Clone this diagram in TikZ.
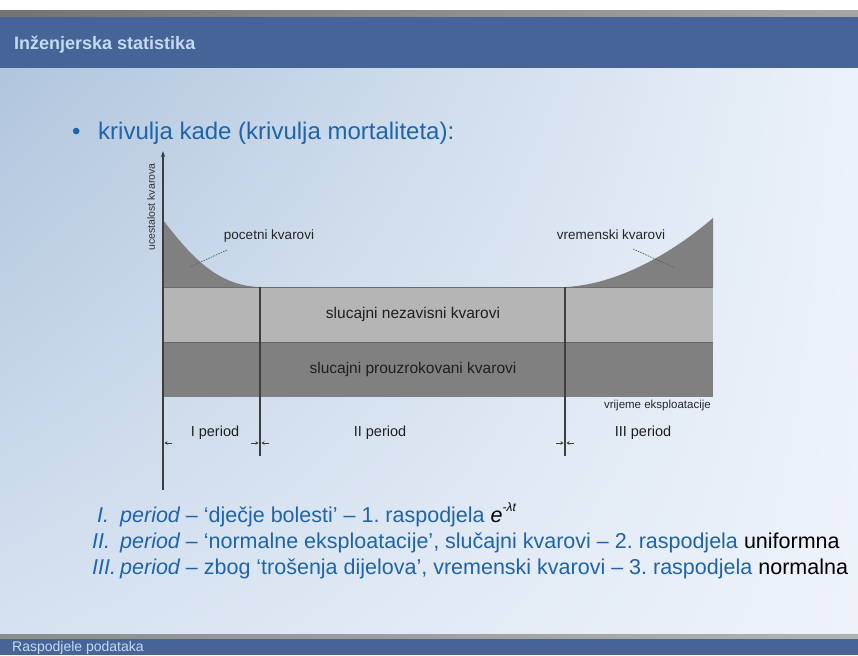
\documentclass[tikz,border=0pt]{standalone}
\usepackage{fontspec}
\setmainfont{Liberation Sans}
\usepackage{tikz}
\usetikzlibrary{arrows.meta,positioning,shadings}
\definecolor{slideBlue}{RGB}{70,100,152}
\definecolor{slideTitle}{RGB}{196,218,240}
\definecolor{bgUpperLeft}{RGB}{176,197,221}
\definecolor{bgUpperRight}{RGB}{236,242,250}
\definecolor{bgLowerLeft}{RGB}{214,226,241}
\definecolor{bgLowerRight}{RGB}{238,243,250}
\definecolor{textBlue}{RGB}{30,100,172}
\definecolor{bandLight}{RGB}{181,181,182}
\definecolor{bandDark}{RGB}{128,128,128}
\definecolor{lineGrey}{RGB}{62,62,62}
\newcommand{\earlycurve}{(163,287) -- (163,220) .. controls (188,252) and (215,286) .. (260,287) -- cycle}
\newcommand{\wearcurve}{(565,287) .. controls (615,285) and (670,255) .. (713,218) -- (713,287) -- cycle}
\tikzset{
	bandlabel/.style={font=\fontsize{15.5}{18}\selectfont, text=black!88, inner sep=0pt},
	periodlabel/.style={font=\fontsize{14.5}{17}\selectfont, text=black!88, inner sep=0pt},
	curvelabel/.style={font=\fontsize{13.5}{16}\selectfont, text=black!85, inner sep=0pt},
	periodline/.style={draw=lineGrey, line width=1.6pt},
	leader/.style={draw=black!65, line width=0.7pt, dash pattern=on 1.5pt off 1.2pt},
	spanmark/.style={draw=lineGrey, line width=0.8pt, -{Stealth[length=3pt,width=3.5pt]}},
	listline/.style={font=\fontsize{21.5}{26}\selectfont, text=textBlue, anchor=base west, inner sep=0pt}
}

\begin{document}
\begin{tikzpicture}[x=1pt, y=-1pt]
		\useasboundingbox (0,0) rectangle (858,655);
		% slide background
		\shade[upper left=bgUpperLeft, upper right=bgUpperRight, lower left=bgLowerLeft, lower right=bgLowerRight] (0,68) rectangle (858,638);
		\fill[white] (0,0) rectangle (858,11);
		\shade[left color=black!55, right color=black!35] (0,11) rectangle (858,17);
		\fill[slideBlue] (0,17) rectangle (858,68);
		\shade[left color=black!45, right color=black!30] (0,634) rectangle (858,639);
		\fill[slideBlue] (0,639) rectangle (858,655);
		\node[anchor=base west, inner sep=0pt, text=slideTitle, font=\bfseries\fontsize{18}{21}\selectfont] (title) at (14,50) {Inženjerska statistika};
		\node[anchor=base west, inner sep=0pt, text=slideTitle, font=\fontsize{14}{16}\selectfont] (footer) at (12,651) {Raspodjele podataka};
		
		\node[anchor=base west, inner sep=0pt, text=textBlue, font=\fontsize{24}{28}\selectfont] (bullet) at (72,140) {•};
		\node[anchor=base west, inner sep=0pt, text=textBlue, font=\fontsize{24}{28}\selectfont] (heading) at (98,140) {krivulja kade (krivulja mortaliteta):};
		
		% bands and curves
		\fill[bandLight] (163,287) rectangle (713,342);
		\fill[bandDark] (163,342) rectangle (713,397);
		\fill[bandDark] \earlycurve;
		\fill[bandDark] \wearcurve;
		\draw[black!58, line width=1pt] (163,287) -- (713,287);
		\draw[black!60, line width=0.6pt] (163,342) -- (713,342);
		
		\node[bandlabel] (indep) at (413,314) {slucajni nezavisni kvarovi};
		\node[bandlabel] (caused) at (413,369) {slucajni prouzrokovani kvarovi};
		\node[curvelabel] (early) at (269,236) {pocetni kvarovi};
		\node[curvelabel] (wear) at (611,235) {vremenski kvarovi};
		\node[anchor=east, inner sep=0pt, font=\fontsize{11.5}{13}\selectfont, text=black!85] (time) at (711,406) {vrijeme eksploatacije};
		\node[rotate=90, inner sep=0pt, font=\fontsize{10.5}{12}\selectfont, text=black!80] (freq) at (151,207) {ucestalost kvarova};
		
		\coordinate (earlyA) at (227,250);
		\coordinate (earlyB) at (190,267);
		\coordinate (wearA) at (633,249);
		\coordinate (wearB) at (675,268);
		\draw[leader] (earlyA) -- (earlyB);
		\draw[leader] (wearA) -- (wearB);
		
		% axis and period borders
		\coordinate (axisBot) at (163,490);
		\coordinate (axisTop) at (163,151);
		\coordinate (oneTop) at (260,287);
		\coordinate (oneBot) at (260,456);
		\coordinate (twoTop) at (565,287);
		\coordinate (twoBot) at (565,456);
		\draw[periodline, -{Stealth[length=6pt,width=4pt]}] (axisBot) -- (axisTop);
		\draw[periodline] (oneTop) -- (oneBot);
		\draw[periodline] (twoTop) -- (twoBot);
		
		\node[periodlabel] (per1) at (215,433) {I period};
		\node[periodlabel] (per2) at (380,433) {II period};
		\node[periodlabel] (per3) at (643,433) {III period};
		
		\foreach \x/\s in {163/1, 260/1, 260/-1, 565/1, 565/-1}
			\draw[spanmark] (\x+\s*9,443) -- (\x+\s*1.5,443);
		
		% periods list
		\node[listline] (num1) at (97,522) {\itshape I.};
		\node[listline] (item1) at (120,522) {\itshape period\upshape{} – ‘dječje bolesti’ – 1.\ raspodjela \textcolor{black}{\itshape e\raisebox{0.9ex}{\fontsize{12}{12}\selectfont -λt}}};
		\node[listline] (num2) at (92,548) {\itshape II.};
		\node[listline] (item2) at (120,548) {\itshape period\upshape{} – ‘normalne eksploatacije’, slučajni kvarovi – 2.\ raspodjela \textcolor{black}{uniformna}};
		\node[listline] (num3) at (92,574) {\itshape III.};
		\node[listline] (item3) at (120,574) {\itshape period\upshape{} – zbog ‘trošenja dijelova’, vremenski kvarovi – 3.\ raspodjela \textcolor{black}{normalna}};
	\end{tikzpicture}
\end{document}
